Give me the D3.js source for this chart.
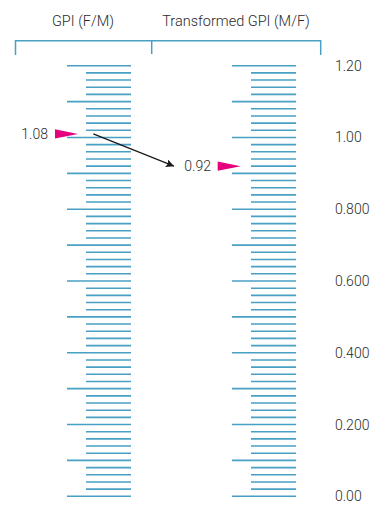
<!DOCTYPE html>
<html>
<head>
<meta charset="utf-8">
<script src="https://cdn.jsdelivr.net/npm/d3@7"></script>
<style>
  body { margin: 0; background: #fff; }
  svg text { font-family: Roboto, "Liberation Sans", sans-serif; font-weight: 300; fill: #2b2b2b; }
</style>
</head>
<body>
<svg width="372" height="505"></svg>
<script>
// column headings and the right-hand scale labels
const headings = ["GPI (F/M)", "Transformed GPI (M/F)"];
const tickValues = [0, 0.2, 0.4, 0.6, 0.8, 1.0, 1.2];
const tickLabels = ["0.00", "0.200", "0.400", "0.600", "0.800", "1.00", "1.20"];
// pointer labels and where the pointers sit on the scale (as drawn)
const pointerLabels = ["1.08", "0.92"];
const pointerValues = [1.01, 0.92];

const lineColor = "#48a0c4";
const pink = "#e5007d";

let svg = d3.select("svg");

let y = d3.scaleLinear().domain([0, 1.2]).range([496.3, 65.7]);

// one ruler per column: [long tick start, short tick start, end]
const rulers = [[67, 86, 131], [232, 251, 296]];

// minor ticks every 0.02, long ones every 0.1
let ticks = d3.range(0, 61).map(function(i) { return i * 0.02; });

rulers.forEach(function(r) {
  svg.append("g")
    .selectAll("line")
    .data(ticks)
    .enter()
    .append("line")
    .attr("x1", function(d, i) { return i % 5 == 0 ? r[0] : r[1]; })
    .attr("x2", r[2])
    .attr("y1", function(d) { return y(d); })
    .attr("y2", function(d) { return y(d); })
    .attr("stroke", lineColor)
    .attr("stroke-width", 1.6);
});

// header bracket
svg.append("path")
  .attr("d", "M15.5,55V40.7H320.7V55M151.7,40.7V54")
  .attr("fill", "none")
  .attr("stroke", lineColor)
  .attr("stroke-width", 1.5);

let headX = [83, 236];
svg.selectAll(".head")
  .data(headings)
  .enter()
  .append("text")
  .attr("class", "head")
  .attr("x", function(d, i) { return headX[i]; })
  .attr("y", 25.7)
  .attr("text-anchor", "middle")
  .style("font-size", "14.5px")
  .text(function(d) { return d; });

// right axis labels
let axis = svg.append("g")
  .attr("transform", "translate(335,0)")
  .call(d3.axisRight(y)
    .tickValues(tickValues)
    .tickSize(0)
    .tickPadding(0)
    .tickFormat(function(d, i) { return tickLabels[i]; }));
axis.select(".domain").remove();
axis.selectAll("text")
  .attr("fill", null)
  .style("font-size", "14px")
  .style("font-family", "Roboto, sans-serif");

// pointers: triangle tip x and label x per column
const tipX = [78, 240.7];
const labelX = [48, 211];

pointerValues.forEach(function(v, i) {
  let py = y(v);
  svg.append("path")
    .attr("d", "M" + (tipX[i] - 23) + "," + (py - 4.6) + "L" + tipX[i] + "," + py + "L" + (tipX[i] - 23) + "," + (py + 4.6) + "Z")
    .attr("fill", pink);
  svg.append("text")
    .attr("x", labelX[i])
    .attr("y", py)
    .attr("dy", "0.35em")
    .attr("text-anchor", "end")
    .style("font-size", "14px")
    .text(pointerLabels[i]);
});

// arrow from left pointer to right pointer
svg.append("defs").append("marker")
  .attr("id", "ah")
  .attr("viewBox", "0 0 10 10")
  .attr("refX", 10)
  .attr("refY", 5)
  .attr("markerWidth", 11)
  .attr("markerHeight", 8)
  .attr("markerUnits", "userSpaceOnUse")
  .attr("orient", "auto")
  .append("path")
  .attr("d", "M0,0L10,5L0,10L2,5Z")
  .attr("fill", "#1a1a1a");

svg.append("line")
  .attr("x1", 93.3)
  .attr("y1", y(pointerValues[0]))
  .attr("x2", 174)
  .attr("y2", y(pointerValues[1]))
  .attr("stroke", "#1a1a1a")
  .attr("stroke-width", 1.3)
  .attr("marker-end", "url(#ah)");
</script>
</body>
</html>
